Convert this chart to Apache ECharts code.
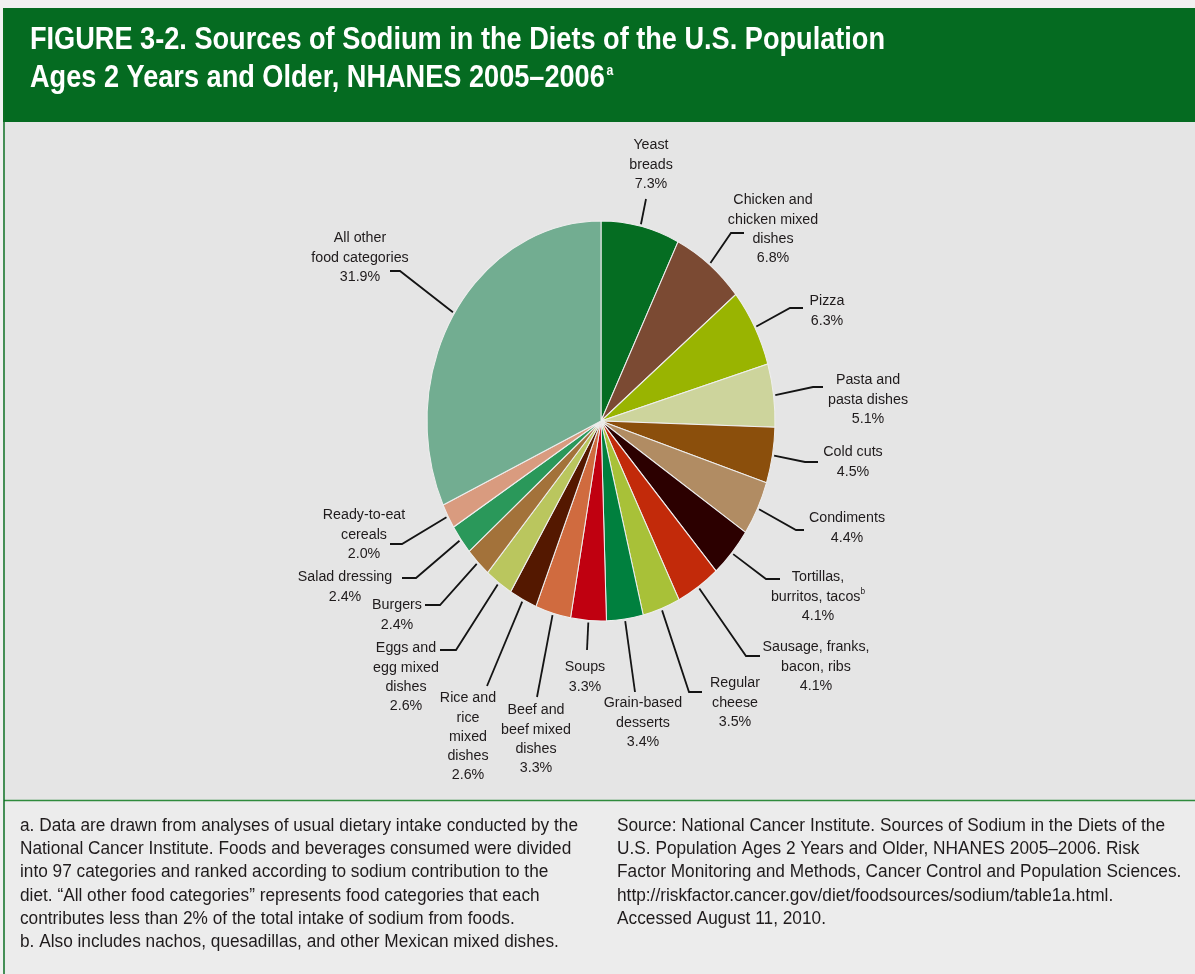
<!DOCTYPE html>
<html>
<head>
<meta charset="utf-8">
<script src="https://cdn.jsdelivr.net/npm/echarts@6/dist/echarts.min.js"></script>
<style>
html, body { margin: 0; padding: 0; background: #f1f1f1; }
#chart { width: 1195px; height: 974px; }
</style>
</head>
<body>
<div id="chart"></div>
<script>
// slices, clockwise from 12 o'clock
var categories = [
    'Yeast\nbreads',
    'Chicken and\nchicken mixed\ndishes',
    'Pizza',
    'Pasta and\npasta dishes',
    'Cold cuts',
    'Condiments',
    'Tortillas,\nburritos, tacos',
    'Sausage, franks,\nbacon, ribs',
    'Regular\ncheese',
    'Grain-based\ndesserts',
    'Soups',
    'Beef and\nbeef mixed\ndishes',
    'Rice and\nrice\nmixed\ndishes',
    'Eggs and\negg mixed\ndishes',
    'Burgers',
    'Salad dressing',
    'Ready-to-eat\ncereals',
    'All other\nfood categories'
];
var notes = ['', '', '', '', '', '', 'b', '', '', '', '', '', '', '', '', '', '', ''];
var values = [7.3, 6.8, 6.3, 5.1, 4.5, 4.4, 4.1, 4.1, 3.5, 3.4, 3.3, 3.3, 2.6, 2.6, 2.4, 2.4, 2.0, 31.9];

var colors = ['#056d22', '#7b4a33', '#99b401', '#cdd49c', '#8b4f0c', '#b18c63', '#2c0000', '#c22a0a', '#a8c138',
    '#00803e', '#c00010', '#d06b3f', '#541800', '#bac65e', '#a3723a', '#2a985a', '#d99b7f', '#72ad91'];

// label placement (centre x, first line centre y) and leader line bends
var labelPos = [[651, 145], [773, 200], [827, 301], [868, 380], [853, 452], [847, 518], [818, 577], [816, 647],
    [735, 683], [643, 703], [585, 667], [536, 710], [468, 698], [406, 648], [397, 605], [345, 577], [364, 515], [360, 238]];
var leaderPts = [
    [[646, 199]],
    [[731, 233], [744, 233]],
    [[790, 308], [803, 308]],
    [[813, 387], [823, 387]],
    [[805, 462], [818, 462]],
    [[796, 530], [804, 530]],
    [[766, 579], [780, 579]],
    [[746, 656], [760, 656]],
    [[689, 692], [702, 692]],
    [[635, 692]],
    [[587, 650]],
    [[537, 697]],
    [[487, 686]],
    [[456, 650], [440, 650]],
    [[440, 605], [425, 605]],
    [[416, 578], [402, 578]],
    [[402, 544], [390, 544]],
    [[400, 271], [390, 271]]
];

var titleLines = ['FIGURE 3-2. Sources of Sodium in the Diets of the U.S. Population',
    'Ages 2 Years and Older, NHANES 2005\u20132006'];
var noteLeft = [
    'a. Data are drawn from analyses of usual dietary intake conducted by the',
    'National Cancer Institute. Foods and beverages consumed were divided',
    'into 97 categories and ranked according to sodium contribution to the',
    'diet. \u201cAll other food categories\u201d represents food categories that each',
    'contributes less than 2% of the total intake of sodium from foods.',
    'b. Also includes nachos, quesadillas, and other Mexican mixed dishes.'
];
var noteRight = [
    'Source: National Cancer Institute. Sources of Sodium in the Diets of the',
    'U.S. Population Ages 2 Years and Older, NHANES 2005\u20132006. Risk',
    'Factor Monitoring and Methods, Cancer Control and Population Sciences.',
    'http://riskfactor.cancer.gov/diet/foodsources/sodium/table1a.html.',
    'Accessed August 11, 2010.'
];

var CX = 601, CY = 421, RX = 174, RY = 200, LH = 19.3;
var FAM = '"Liberation Sans Narrow", "Liberation Sans", Arial, sans-serif';
var LABEL_FAM = '"Liberation Sans", Arial, sans-serif';

var total = 0, starts = [];
for (var k = 0; k < values.length; k++) { starts.push(total); total += values[k]; }

var measureCtx = document.createElement('canvas').getContext('2d');
function fitScale(str, font, target) {
    measureCtx.font = font;
    return target / measureCtx.measureText(str).width;
}

function renderItem(params, api) {
    var i = params.dataIndex;
    var v = api.value(0);
    var a0 = -Math.PI / 2 + 2 * Math.PI * starts[i] / total;
    var a1 = a0 + 2 * Math.PI * v / total;
    var mid = (a0 + a1) / 2;
    var pts = [[CX + RX * 1.01 * Math.cos(mid), CY + RY * 1.01 * Math.sin(mid)]].concat(leaderPts[i]);
    var lab = labelPos[i];
    var txt = categories[i] + (notes[i] ? '{sup|' + notes[i] + '}' : '') + '\n' + v.toFixed(1) + '%';
    return {
        type: 'group',
        children: [{
            type: 'sector',
            x: CX, y: CY, scaleY: RY / RX,
            shape: { cx: 0, cy: 0, r: RX, r0: 0, startAngle: a0, endAngle: a1, clockwise: true },
            style: { fill: colors[i], stroke: '#eeeeee', lineWidth: 1 }
        }, {
            type: 'polyline',
            shape: { points: pts },
            style: { stroke: '#141414', lineWidth: 1.8, fill: null }
        }, {
            type: 'text',
            x: lab[0], y: lab[1] - LH / 2, scaleX: 0.92,
            style: {
                text: txt, fill: '#1f1b1c', fontSize: 15.5, fontFamily: LABEL_FAM,
                align: 'center', verticalAlign: 'top', lineHeight: LH,
                rich: { sup: { fontSize: 9, fontFamily: LABEL_FAM, fill: '#1f1b1c', verticalAlign: 'top', lineHeight: 14 } }
            }
        }]
    };
}

var titleFont = 'bold 31px ' + FAM;
var titleScale = fitScale(titleLines[0], titleFont, 855);
var noteFont = '17.5px ' + FAM;
var leftScale = fitScale(noteLeft[0], noteFont, 558);
var rightScale = fitScale(noteRight[0], noteFont, 548);

var graphics = [
    { type: 'rect', z: 0, shape: { x: 3, y: 8, width: 1192, height: 114 }, style: { fill: '#056b21' } },
    { type: 'rect', z: 0, shape: { x: 5, y: 122, width: 1190, height: 678 }, style: { fill: '#e5e5e5' } },
    { type: 'rect', z: 0, shape: { x: 5, y: 801, width: 1190, height: 173 }, style: { fill: '#ececec' } },
    { type: 'line', z: 1, shape: { x1: 4, y1: 800.5, x2: 1195, y2: 800.5 }, style: { stroke: '#2f8a3c', lineWidth: 1.5 } },
    { type: 'line', z: 1, shape: { x1: 4, y1: 8, x2: 4, y2: 974 }, style: { stroke: '#0b6e22', lineWidth: 1.5 } }
];
titleLines.forEach(function (t, j) {
    graphics.push({
        type: 'text', z: 2, x: 30, y: j === 0 ? 40 : 78, scaleX: titleScale,
        style: {
            text: j === 1 ? t + '{sup|a}' : t, fill: '#ffffff', font: titleFont,
            align: 'left', verticalAlign: 'middle',
            rich: { sup: { fontSize: 14, fontWeight: 'bold', fontFamily: FAM, fill: '#ffffff', padding: [0, 0, 14, 2] } }
        }
    });
});
noteLeft.forEach(function (t, j) {
    graphics.push({
        type: 'text', z: 2, x: 20, y: 826 + j * 23.3, scaleX: leftScale,
        style: { text: t, fill: '#1f1b1c', font: noteFont, align: 'left', verticalAlign: 'middle' }
    });
});
noteRight.forEach(function (t, j) {
    graphics.push({
        type: 'text', z: 2, x: 617, y: 826 + j * 23.3, scaleX: rightScale,
        style: { text: t, fill: '#1f1b1c', font: noteFont, align: 'left', verticalAlign: 'middle' }
    });
});

var myChart = echarts.init(document.getElementById('chart'));
myChart.setOption({
    backgroundColor: '#f1f1f1',
    animation: false,
    graphic: { elements: graphics },
    series: [{
        type: 'custom',
        coordinateSystem: 'none',
        z: 5,
        silent: true,
        dimensions: ['value'],
        data: values.map(function (v) { return [v]; }),
        renderItem: renderItem
    }]
});
</script>
</body>
</html>
